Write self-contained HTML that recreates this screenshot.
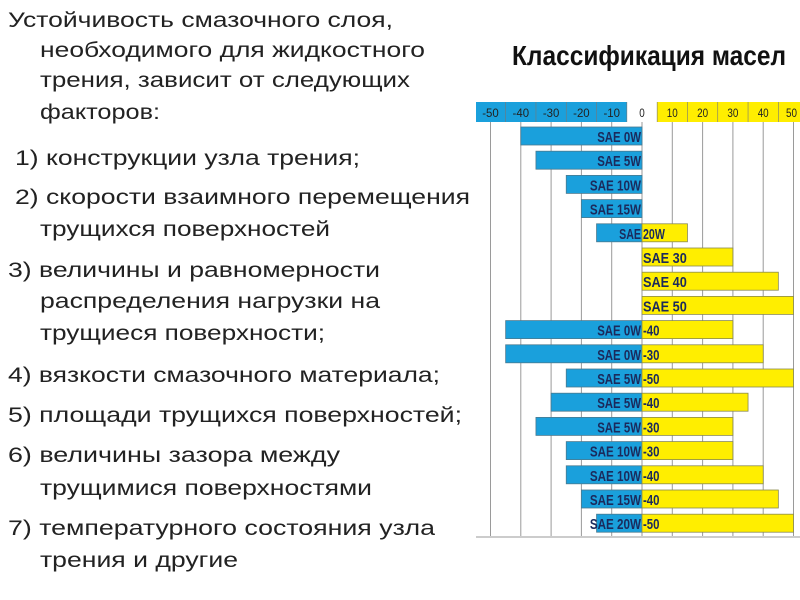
<!DOCTYPE html>
<html><head><meta charset="utf-8"><style>
html,body{margin:0;padding:0;background:#fff;width:800px;height:600px;overflow:hidden}
svg{display:block}
.t{font-family:"Liberation Sans",Arial,sans-serif;font-size:21px;fill:#222}
.b{font-family:"Liberation Sans",Arial,sans-serif;font-weight:bold;font-size:15px;fill:#1b2a5c}
.h{font-family:"Liberation Sans",Arial,sans-serif;font-size:12px;fill:#222}
</style></head><body>
<svg width="800" height="600" xmlns="http://www.w3.org/2000/svg">
<g class="t">
<text x="8" y="27" textLength="385" lengthAdjust="spacingAndGlyphs">Устойчивость смазочного слоя,</text>
<text x="40" y="57" textLength="385" lengthAdjust="spacingAndGlyphs">необходимого для жидкостного</text>
<text x="40" y="87" textLength="370" lengthAdjust="spacingAndGlyphs">трения, зависит от следующих</text>
<text x="40" y="119" textLength="120" lengthAdjust="spacingAndGlyphs">факторов:</text>
<text x="15" y="165" textLength="345" lengthAdjust="spacingAndGlyphs">1) конструкции узла трения;</text>
<text x="15" y="204" textLength="455" lengthAdjust="spacingAndGlyphs">2) скорости взаимного перемещения</text>
<text x="40" y="236" textLength="290" lengthAdjust="spacingAndGlyphs">трущихся поверхностей</text>
<text x="8" y="277" textLength="372" lengthAdjust="spacingAndGlyphs">3) величины и равномерности</text>
<text x="40" y="308" textLength="340" lengthAdjust="spacingAndGlyphs">распределения нагрузки на</text>
<text x="40" y="340" textLength="285" lengthAdjust="spacingAndGlyphs">трущиеся поверхности;</text>
<text x="8" y="382" textLength="432" lengthAdjust="spacingAndGlyphs">4) вязкости смазочного материала;</text>
<text x="8" y="422" textLength="454" lengthAdjust="spacingAndGlyphs">5) площади трущихся поверхностей;</text>
<text x="8" y="462" textLength="332" lengthAdjust="spacingAndGlyphs">6) величины зазора между</text>
<text x="40" y="495" textLength="332" lengthAdjust="spacingAndGlyphs">трущимися поверхностями</text>
<text x="8" y="535" textLength="427" lengthAdjust="spacingAndGlyphs">7) температурного состояния узла</text>
<text x="40" y="567" textLength="198" lengthAdjust="spacingAndGlyphs">трения и другие</text>
</g>
<text x="512" y="65" textLength="274" lengthAdjust="spacingAndGlyphs" style="font-family:'Liberation Sans',sans-serif;font-weight:bold;font-size:28px;fill:#111">Классификация масел</text>
<g id="chart"></g>
</svg>
<script>
var g=document.getElementById('chart'),NS='http://www.w3.org/2000/svg';
function el(n,a,txt){var e=document.createElementNS(NS,n);for(var k in a)e.setAttribute(k,a[k]);if(txt!=null)e.textContent=txt;g.appendChild(e);return e;}
function X(d){return 642+d*3.03;}
var B='#1aa0dc',Y='#ffee00';
el('rect',{x:476,y:102,width:166,height:20,fill:B});
el('rect',{x:627,y:102,width:30,height:20,fill:'#fff'});
el('rect',{x:657,y:102,width:143,height:20,fill:Y});
for(var d=-50;d<=50;d+=10){
 el('line',{x1:X(d),y1:122,x2:X(d),y2:536,stroke:'#9a9a9a','stroke-width':1});
 var t=el('text',{x:X(d)-(d==50?2:0),y:117,'text-anchor':'middle','class':'h'},String(d));
 t.setAttribute('textLength',String(d).length*5.5);t.setAttribute('lengthAdjust','spacingAndGlyphs');
 if(d<50){var m=X(d+5);el('line',{x1:m,y1:102,x2:m,y2:122,stroke:'#777','stroke-width':0.6});}
}
el('line',{x1:476,y1:537,x2:800,y2:537,stroke:'#999','stroke-width':1});
var rows=[[-40,0,'SAE 0W',''],[-35,0,'SAE 5W',''],[-25,0,'SAE 10W',''],[-20,0,'SAE 15W',''],
[-15,15,'SAE','20W'],[0,30,'','SAE 30'],[0,45,'','SAE 40'],[0,50,'','SAE 50'],
[-45,30,'SAE 0W','-40'],[-45,40,'SAE 0W','-30'],[-25,50,'SAE 5W','-50'],[-30,35,'SAE 5W','-40'],
[-35,30,'SAE 5W','-30'],[-25,30,'SAE 10W','-30'],[-25,40,'SAE 10W','-40'],[-20,45,'SAE 15W','-40'],[-15,50,'SAE 20W','-50']];
rows.forEach(function(r,i){
 var y=127+i*24.2,h=18;
 if(r[0]<0)el('rect',{x:X(r[0]),y:y,width:X(0)-X(r[0]),height:h,fill:B,stroke:'#4a7a90','stroke-width':0.8});
 if(r[1]>0)el('rect',{x:X(0),y:y,width:X(r[1])-X(0),height:h,fill:Y,stroke:'#8a8a50','stroke-width':0.8});
 if(r[2]){var t=el('text',{x:641,y:y+15,'text-anchor':'end','class':'b'},r[2]);t.setAttribute('textLength',r[2].length*7.3);t.setAttribute('lengthAdjust','spacingAndGlyphs');}
 if(r[3]){var t2=el('text',{x:643,y:y+15,'class':'b'},r[3]);t2.setAttribute('textLength',r[3].length*(r[3].charAt(0)=='-'?5.5:7.3));t2.setAttribute('lengthAdjust','spacingAndGlyphs');}
});
</script>
</body></html>
